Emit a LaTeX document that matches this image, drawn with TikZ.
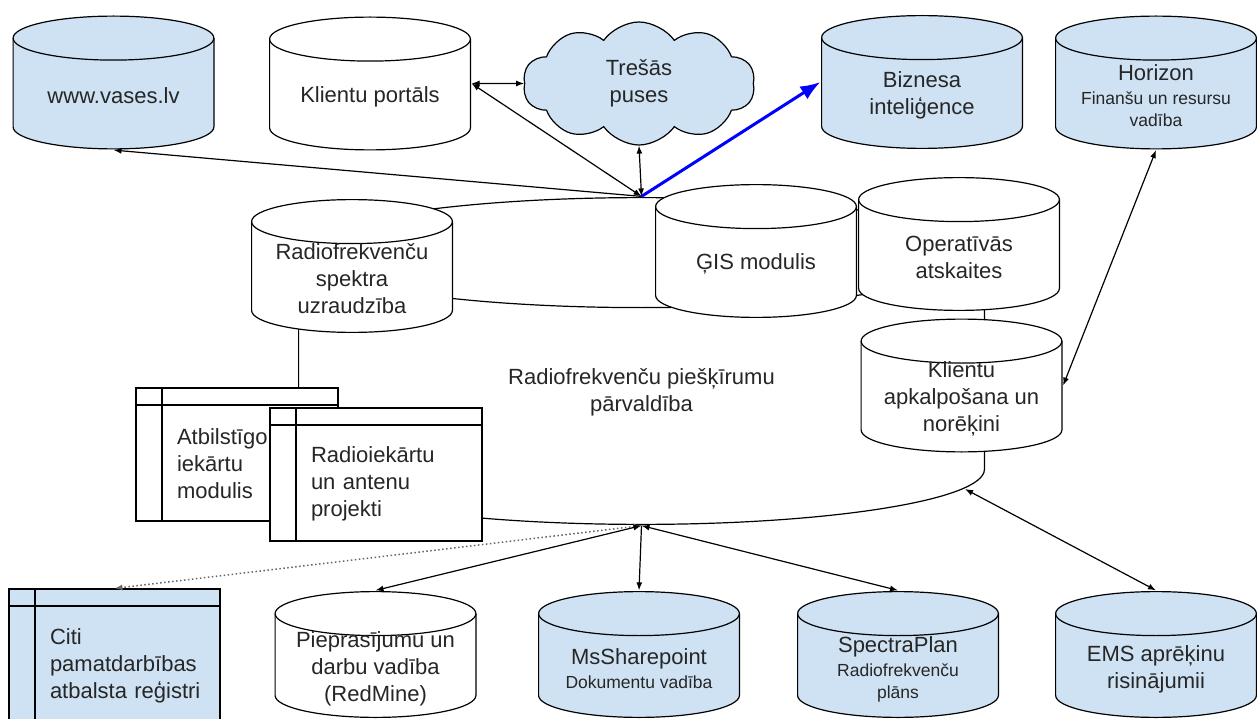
\documentclass[tikz,border=0pt]{standalone}
\usepackage{fontspec}
\setmainfont{Liberation Sans}
\usetikzlibrary{shapes.symbols,arrows.meta,calc}

\definecolor{sky}{HTML}{CFE2F3}
\definecolor{linkblue}{HTML}{0000FF}
\newcommand{\minor}{\fontsize{17.5}{22}\selectfont}
\newcommand{\dbgap}[1][42pt]{\rule{0pt}{#1}}

\tikzset{
  cap/.store in=\capr, cap=22pt,
  db/.style={rectangle, inner sep=0pt, minimum width=202pt, minimum height=134pt,
    align=center,
    path picture={
      \filldraw[fill=#1]
        let \p1=([shift={(0.6pt,0.6pt)}]path picture bounding box.south west),
            \p2=([shift={(-0.6pt,-0.6pt)}]path picture bounding box.north east),
            \n1={(\x2-\x1)/2} in
        ({\x1},{\y2-\capr}) -- ({\x1},{\y1+\capr})
        arc[start angle=180, end angle=360, x radius=\n1, y radius=\capr]
        -- ({\x2},{\y2-\capr})
        arc[start angle=0, end angle=180, x radius=\n1, y radius=\capr] -- cycle;
      \draw
        let \p1=([shift={(0.6pt,0.6pt)}]path picture bounding box.south west),
            \p2=([shift={(-0.6pt,-0.6pt)}]path picture bounding box.north east),
            \n1={(\x2-\x1)/2} in
        ({\x1},{\y2-\capr})
        arc[start angle=180, end angle=360, x radius=\n1, y radius=\capr];
    }},
  db/.default=white,
  store/.style={rectangle, draw, fill=#1, minimum height=133pt, inner xsep=41pt,
    inner ysep=0pt, align=left, execute at begin node={\rule{0pt}{35pt}},
    path picture={
      \draw ([yshift=-17pt]path picture bounding box.north west) -- ([yshift=-17pt]path picture bounding box.north east);
      \draw ([xshift=26pt]path picture bounding box.north west) -- ([xshift=26pt]path picture bounding box.south west);
    }},
  store/.default=white,
  bluelink/.style={line width=3pt, draw=linkblue, -{Latex[length=20pt,width=15pt]}}
}

\begin{document}
\begin{tikzpicture}[x=1pt, y=-1pt, line width=1.2pt, text=black!85,
    font=\fontsize{22}{27}\selectfont, >={Latex[length=8pt,width=6pt]}]
  \useasboundingbox (0,0) rectangle (1257,719);

  % the big one in the middle
  \node[db, cap=55pt, minimum width=687pt, minimum height=328pt] (giant) at (641.5,361)
    {\dbgap[78pt]Radiofrekvenču piešķīrumu\\pārvaldība};
  \coordinate (emsdock) at (965,489);

  \node[db] (spektrs) at (352,266) {\dbgap Radiofrekvenču\\spektra\\uzraudzība};
  \node[db] (gis) at (756,251) {\dbgap ĢIS modulis};
  \node[db] (atskaites) at (959,244) {\dbgap Operatīvās\\atskaites};
  \node[db] (klienti) at (961.5,385.5) {\dbgap Klientu\\apkalpošana un\\norēķini};

  \node[store, text width=120pt] (atbilst) at (237,454.5) {Atbilstīgo\\iekārtu\\modulis};
  \node[store, text width=130pt] (radioiek) at (376,474.5) {Radioiekārtu\\un antenu\\projekti};
  \node[store=sky, text width=129pt, minimum height=135pt] (citi) at (114.5,656.5)
    {Citi\\\mbox{pamatdarbības}\\\mbox{atbalsta reģistri}};

  % top row
  \node[db=sky] (vases) at (113.5,82.5) {\dbgap www.vases.lv};
  \node[db] (portal) at (370,83.5) {\dbgap Klientu portāls};
  \node[cloud, cloud puffs=10, cloud puff arc=110, aspect=1.9, draw, fill=sky,
    minimum width=232pt, minimum height=123pt, inner sep=0pt, align=center]
    (cloud) at (639,83.5) {Trešās\\puses};
  \node[db=sky] (bi) at (922,82) {\dbgap Biznesa\\inteliģence};
  \node[db=sky] (horizon) at (1156,82.5)
    {\dbgap Horizon\\[-3pt]\minor Finanšu un resursu\\[-5pt]\minor vadība};

  % bottom row
  \node[db, minimum height=127pt] (redmine) at (375.5,654.5)
    {\dbgap[45pt]Pieprasījumu un\\darbu vadība\\(RedMine)};
  \node[db=sky, minimum height=127pt] (sharepoint) at (639,654.5)
    {\dbgap[45pt]MsSharepoint\\[-3pt]\minor Dokumentu vadība};
  \node[db=sky, minimum height=127pt] (spectra) at (898,654.5)
    {\dbgap[45pt]SpectraPlan\\[-3pt]\minor Radiofrekvenču\\[-5pt]\minor plāns};
  \node[db=sky, minimum height=127pt] (ems) at (1156,654.5)
    {\dbgap[45pt]EMS aprēķinu\\risinājumii};

  % links
  \draw[->] (giant.north) -- (vases.south);
  \draw[<->] (giant.north) -- (portal.east);
  \draw[<->] (portal.east) -- (cloud.west);
  \draw[<->] (giant.north) -- (cloud.south);
  \draw[bluelink] (giant.north) -- (bi.west);
  \draw[<->] (klienti.east) -- (horizon.south);

  \draw[<->, black!60, line width=1.5pt, dash pattern=on 1.5pt off 2.5pt] (giant.south) -- (citi.north);
  \draw[<->] (giant.south) -- (redmine.north);
  \draw[->] (giant.south) -- (sharepoint.north);
  \draw[<->] (giant.south) -- (spectra.north);
  \draw[<->] (emsdock) -- (ems.north);

\end{tikzpicture}
\end{document}
